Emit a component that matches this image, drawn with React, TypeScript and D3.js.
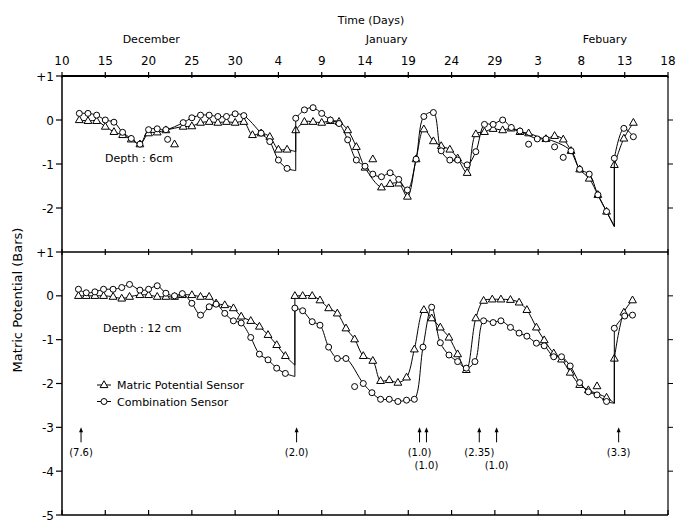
import React from "react";
import * as d3 from "d3";

type Pt = [number, number];

// days counted from Dec 10
const tickDays = d3.range(0, 71, 5);
const tickLabels = ["10", "15", "20", "25", "30", "4", "9", "14", "19", "24", "29", "3", "8", "13", "18"];
const monthNames = ["December", "January", "Febuary"];
const monthDays = [10.3, 37.5, 62.7];

const topTicks = [1, 0, -1, -2];
const topTickLabels = ["+1", "0", "-1", "-2"];
const botTicks = [1, 0, -1, -2, -3, -4, -5];
const botTickLabels = ["+1", "0", "-1", "-2", "-3", "-4", "-5"];

// depth 6 cm, matric potential sensor (triangles)
const tri6: Pt[] = [
  [2, 0.0], [3, -0.02], [4, -0.02], [5, -0.15], [6, -0.27], [7, -0.34], [8, -0.44], [9, -0.55],
  [10, -0.3], [11, -0.28], [12, -0.23], [14, -0.15], [15, -0.14], [16, -0.06], [17, -0.04],
  [18, -0.06], [19, -0.04], [20, -0.06], [21, -0.04], [22, -0.34], [23, -0.3], [24, -0.38],
  [25, -0.67], [26, -0.67], [27, -0.72], [27, -0.23], [28, -0.04], [29, -0.04], [30, -0.06],
  [31, -0.02], [32, -0.04], [33, -0.23], [34, -0.61], [35, -1.08], [36.9, -1.53], [37.9, -1.45],
  [38.9, -1.44], [39.9, -1.74], [40.9, -0.89], [41.8, -0.21], [42.9, -0.48], [43.8, -0.59],
  [44.8, -0.67], [45.7, -0.87], [46.8, -1.2], [47.8, -0.32], [48.8, -0.27], [49.8, -0.2],
  [50.9, -0.23], [51.9, -0.19], [52.9, -0.27], [53.9, -0.3], [55.9, -0.43], [56.9, -0.36],
  [57.9, -0.44], [58.8, -0.7], [59.8, -1.12], [60.9, -1.33], [61.9, -1.7], [62.9, -2.08],
  [63.8, -2.42], [63.8, -1.02], [64.9, -0.42], [66, -0.06],
];
const tri6Out: Pt[] = [[13, -0.55], [35.9, -0.89]];

// depth 6 cm, combination sensor (circles)
const circ6: Pt[] = [
  [2, 0.15], [3, 0.15], [4, 0.11], [5, 0.0], [6, -0.05], [7, -0.28], [8, -0.42], [9, -0.55],
  [10, -0.22], [11, -0.2], [12, -0.22], [14, -0.06], [15, 0.05], [16, 0.11], [17, 0.11],
  [18, 0.08], [19, 0.08], [20, 0.14], [21, 0.1], [23, -0.3], [24, -0.49], [25, -0.91],
  [26, -1.1], [27, -1.15], [27, 0.04], [28, 0.23], [29, 0.28], [30, 0.15], [31, 0.0],
  [32, -0.08], [33, -0.45], [34, -0.91], [35, -1.05], [35.9, -1.23], [36.9, -1.29],
  [37.9, -1.2], [38.9, -1.35], [39.9, -1.59], [40.9, -0.89], [41.8, 0.08], [42.9, 0.17],
  [43.8, -0.7], [44.8, -0.91], [45.7, -0.91], [46.8, -1.02], [47.8, -0.72], [48.8, -0.1],
  [49.8, -0.1], [50.9, 0.0], [51.9, -0.17], [52.9, -0.25], [54.9, -0.43], [55.9, -0.43],
  [58.8, -0.7], [59.8, -1.12], [60.9, -1.23], [61.9, -1.7], [62.9, -2.08], [63.8, -2.42],
  [63.8, -0.87], [64.9, -0.19], [66, -0.38],
];
const circ6Out: Pt[] = [[12.2, -0.44], [53.9, -0.55], [56.9, -0.61], [57.9, -0.85]];

// depth 12 cm, matric potential sensor (triangles)
const tri12: Pt[] = [
  [1.9, 0.0], [2.8, 0.0], [3.8, 0.0], [4.8, 0.0], [5.9, -0.02], [6.9, -0.06], [7.8, -0.02],
  [9, 0.02], [10, 0.02], [11, -0.02], [12, -0.02], [13, -0.02], [13.9, 0.02], [15, 0.02],
  [16, -0.02], [17, -0.02], [17.8, -0.17], [18.8, -0.21], [19.8, -0.28], [20.7, -0.47],
  [21.8, -0.57], [22.8, -0.7], [23.8, -0.89], [24.8, -1.12], [25.8, -1.37], [26.9, -1.58],
  [26.9, 0.0], [27.8, 0.0], [28.9, 0.0], [29.8, -0.1], [30.8, -0.28], [31.8, -0.4],
  [32.8, -0.74], [33.8, -0.99], [34.8, -1.37], [35.9, -1.48], [36.8, -1.94], [37.8, -1.92],
  [38.8, -1.98], [39.8, -1.86], [40.7, -1.22], [41.8, -0.32], [42.7, -0.51], [43.7, -0.72],
  [44.7, -0.95], [45.7, -1.33], [46.7, -1.69], [47.8, -0.51], [48.7, -0.11], [49.7, -0.08],
  [50.7, -0.08], [51.8, -0.09], [52.8, -0.15], [53.7, -0.32], [54.8, -0.72], [55.7, -1.01],
  [56.8, -1.31], [57.7, -1.45], [58.7, -1.75], [59.8, -2.03], [60.8, -2.15], [62.9, -2.32],
  [63.8, -2.45], [63.8, -1.43], [64.9, -0.38], [65.9, -0.1],
];
const tri12Out: Pt[] = [[61.8, -2.06]];

// depth 12 cm, combination sensor (circles)
const circ12: Pt[] = [
  [1.9, 0.15], [2.8, 0.07], [3.8, 0.09], [4.8, 0.15], [5.9, 0.15], [6.9, 0.19], [7.8, 0.26],
  [9, 0.13], [10, 0.15], [11, 0.23], [12, 0.06], [13, 0.0], [13.9, 0.05], [15, -0.17],
  [16, -0.44], [17, -0.25], [17.8, -0.19], [18.8, -0.4], [19.8, -0.57], [20.7, -0.62],
  [21.8, -0.95], [22.8, -1.33], [23.8, -1.46], [24.8, -1.65], [25.8, -1.77], [26.9, -1.84],
  [26.9, -0.28], [27.8, -0.34], [28.9, -0.59], [29.8, -0.67], [30.8, -1.17], [31.8, -1.43],
  [32.8, -1.43], [34.8, -2.0], [35.8, -2.21], [36.8, -2.36], [37.8, -2.36], [38.8, -2.41],
  [39.8, -2.38], [40.7, -2.36], [41.7, -1.17], [42.7, -0.26], [43.7, -1.07], [44.7, -1.35],
  [45.7, -1.5], [46.7, -1.65], [47.7, -1.5], [48.7, -0.57], [49.8, -0.61], [50.7, -0.57],
  [51.8, -0.72], [52.8, -0.85], [53.7, -0.92], [54.8, -1.08], [55.7, -1.14], [56.8, -1.39],
  [57.7, -1.39], [58.7, -1.6], [59.8, -1.98], [60.8, -2.19], [61.8, -2.26], [62.9, -2.41],
  [63.8, -2.45], [63.8, -0.74], [65, -0.46], [65.9, -0.44],
];
const circ12Out: Pt[] = [[33.8, -2.07]];

// rainfall / irrigation events (cm)
const rainDays = [2.2, 27.1, 41.3, 42.1, 48.2, 50.2, 64.3];
const rainLabels = ["(7.6)", "(2.0)", "(1.0)", "(1.0)", "(2.35)", "(1.0)", "(3.3)"];
const rainRows = [0, 0, 0, 1, 0, 1, 0];

const W = 684;
const H = 523;
const font = "'DejaVu Sans', sans-serif";

const x = d3.scaleLinear().domain([0, 70]).range([62, 668]);
const yTop = d3.scaleLinear().domain([1, -3]).range([76, 252]);
const yBot = d3.scaleLinear().domain([1, -5]).range([252, 515]);

const triPath = "M0,-4.2L3.9,2.6L-3.9,2.6Z";

function Marker({ shape, cx, cy }: { shape: string; cx: number; cy: number }) {
  if (shape === "tri")
    return <path d={triPath} transform={`translate(${cx},${cy})`} fill="#fff" stroke="#000" strokeWidth={1} />;
  return <circle cx={cx} cy={cy} r={3} fill="#fff" stroke="#000" strokeWidth={1} />;
}

function Series({ pts, outliers, y, shape }: { pts: Pt[]; outliers: Pt[]; y: d3.ScaleLinear<number, number>; shape: string }) {
  // split at jumps (two points on the same day)
  const segs: Pt[][] = [];
  pts.forEach((p, i) => {
    if (i === 0 || p[0] === pts[i - 1][0]) segs.push([p]);
    else segs[segs.length - 1].push(p);
  });
  const line = d3
    .line<Pt>()
    .x((d) => x(d[0]))
    .y((d) => y(d[1]))
    .curve(d3.curveCatmullRom.alpha(0.5));
  const marks = pts.filter((p, i) => !(i < pts.length - 1 && pts[i + 1][0] === p[0])).concat(outliers);
  return (
    <g>
      {segs.map((s, i) => (
        <path key={"s" + i} d={line(s) || ""} fill="none" stroke="#000" strokeWidth={1} />
      ))}
      {segs.slice(1).map((s, i) => {
        const a = segs[i][segs[i].length - 1];
        const b = s[0];
        return <line key={"j" + i} x1={x(a[0])} y1={y(a[1])} x2={x(b[0])} y2={y(b[1])} stroke="#000" strokeWidth={1} />;
      })}
      {marks.map((p, i) => (
        <Marker key={"m" + i} shape={shape} cx={x(p[0])} cy={y(p[1])} />
      ))}
    </g>
  );
}

export default function App() {
  const x0 = x(0);
  const x1 = x(70);
  return (
    <svg width={W} height={H} style={{ position: "absolute", left: 0, top: 0, background: "#fff" }} fontFamily={font}>
      {/* titles */}
      <text x={371} y={24} textAnchor="middle" fontSize={11}>Time (Days)</text>
      {monthNames.map((m, i) => (
        <text key={m} x={x(monthDays[i])} y={43} textAnchor="middle" fontSize={11}>{m}</text>
      ))}
      {tickDays.map((d, i) => (
        <text key={"tl" + i} x={x(d)} y={65} textAnchor="middle" fontSize={12}>{tickLabels[i]}</text>
      ))}

      {/* frame */}
      <line x1={x0} x2={x1} y1={yTop(1)} y2={yTop(1)} stroke="#000" strokeWidth={2} />
      <line x1={x0} x2={x1} y1={yBot(1)} y2={yBot(1)} stroke="#000" strokeWidth={1.6} />
      <line x1={x0} x2={x1} y1={yBot(-5)} y2={yBot(-5)} stroke="#000" strokeWidth={1.6} />
      <line x1={x0} x2={x0} y1={yTop(1)} y2={yBot(-5)} stroke="#000" strokeWidth={1.5} />
      <line x1={x1} x2={x1} y1={yTop(1)} y2={yBot(-5)} stroke="#000" strokeWidth={1.2} />

      {tickDays.map((d, i) => (
        <g key={"xt" + i}>
          <line x1={x(d)} x2={x(d)} y1={yTop(1) - 4} y2={yTop(1) + 2} stroke="#000" strokeWidth={1.2} />
          <line x1={x(d)} x2={x(d)} y1={yBot(1) - 3} y2={yBot(1) + 3} stroke="#000" strokeWidth={1.2} />
          <line x1={x(d)} x2={x(d)} y1={yBot(-5) - 5} y2={yBot(-5)} stroke="#000" strokeWidth={1.2} />
        </g>
      ))}

      {topTicks.map((v, i) => (
        <g key={"yt" + i}>
          <line x1={x0 - 6} x2={x0} y1={yTop(v)} y2={yTop(v)} stroke="#000" strokeWidth={1.2} />
          {v < 1 && <line x1={x1} x2={x1 + 5} y1={yTop(v)} y2={yTop(v)} stroke="#000" strokeWidth={1} />}
          <text x={x0 - 8} y={yTop(v) + 4.5} textAnchor="end" fontSize={12}>{topTickLabels[i]}</text>
        </g>
      ))}
      {botTicks.map((v, i) => (
        <g key={"yb" + i}>
          <line x1={x0 - 6} x2={x0} y1={yBot(v)} y2={yBot(v)} stroke="#000" strokeWidth={1.2} />
          {v < 1 && v > -5 && <line x1={x1} x2={x1 + 5} y1={yBot(v)} y2={yBot(v)} stroke="#000" strokeWidth={1} />}
          <text x={x0 - 8} y={yBot(v) + 4.5} textAnchor="end" fontSize={12}>{botTickLabels[i]}</text>
        </g>
      ))}

      <text transform="translate(22,300) rotate(-90)" textAnchor="middle" fontSize={13}>Matric Potential (Bars)</text>

      {/* series */}
      <Series pts={tri6} outliers={tri6Out} y={yTop} shape="tri" />
      <Series pts={circ6} outliers={circ6Out} y={yTop} shape="circ" />
      <Series pts={tri12} outliers={tri12Out} y={yBot} shape="tri" />
      <Series pts={circ12} outliers={circ12Out} y={yBot} shape="circ" />

      <text x={105} y={162} fontSize={11}>Depth : 6cm</text>
      <text x={103} y={332} fontSize={11}>Depth : 12 cm</text>

      {/* legend */}
      <line x1={97} x2={111} y1={385} y2={385} stroke="#000" strokeWidth={1} />
      <Marker shape="tri" cx={104} cy={385} />
      <text x={117} y={389} fontSize={11}>Matric Potential Sensor</text>
      <line x1={97} x2={111} y1={401.5} y2={401.5} stroke="#000" strokeWidth={1} />
      <Marker shape="circ" cx={104} cy={401.5} />
      <text x={117} y={405.5} fontSize={11}>Combination Sensor</text>

      {/* rain arrows */}
      {rainDays.map((d, i) => {
        const ax = x(d);
        const tip = yBot(-3);
        return (
          <g key={"r" + i}>
            <line x1={ax} x2={ax} y1={tip + 3} y2={tip + 15} stroke="#000" strokeWidth={1} />
            <path d={`M${ax},${tip}L${ax + 2},${tip + 5}L${ax - 2},${tip + 5}Z`} fill="#000" />
            <text x={ax} y={tip + 29 + rainRows[i] * 13} textAnchor="middle" fontSize={10}>{rainLabels[i]}</text>
          </g>
        );
      })}
    </svg>
  );
}
